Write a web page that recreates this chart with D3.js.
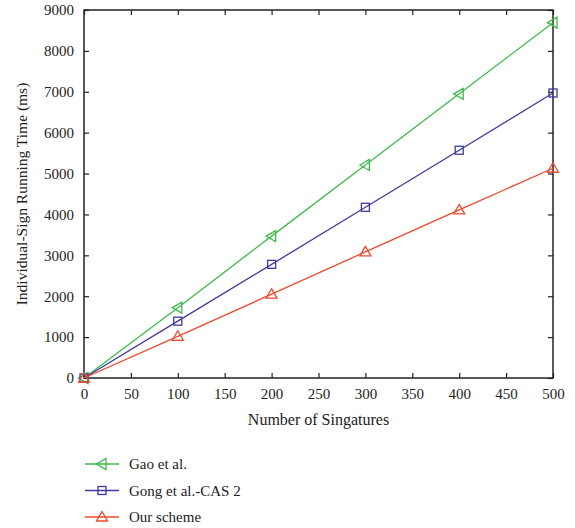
<!DOCTYPE html>
<html>
<head>
<meta charset="utf-8">
<script src="https://cdn.jsdelivr.net/npm/d3@7"></script>
<style>
  body { margin: 0; background: #fff; }
  text { font-family: "Liberation Serif", "DejaVu Serif", serif; fill: #222; }
</style>
</head>
<body>
<div id="chart"></div>
<script>
// Data
var signatures = [0, 100, 200, 300, 400, 500];
var gaoTimes = [0, 1720, 3470, 5210, 6950, 8690];
var gongTimes = [0, 1390, 2780, 4175, 5570, 6970];
var ourTimes = [0, 1020, 2050, 3085, 4110, 5130];
var seriesNames = ["Gao et al.", "Gong et al.-CAS 2", "Our scheme"];
var xTicks = [0, 50, 100, 150, 200, 250, 300, 350, 400, 450, 500];
var yTicks = [0, 1000, 2000, 3000, 4000, 5000, 6000, 7000, 8000, 9000];

var series = [
  { name: seriesNames[0], values: gaoTimes, color: "#3dba4b", marker: "left" },
  { name: seriesNames[1], values: gongTimes, color: "#3e3a9e", marker: "square" },
  { name: seriesNames[2], values: ourTimes, color: "#f2482c", marker: "up" }
];

var svgWidth = 575, svgHeight = 528;
var margin = { top: 10, left: 84, right: 22, bottom: 150 };
var width = svgWidth - margin.left - margin.right;
var height = svgHeight - margin.top - margin.bottom;

var svg = d3.select("#chart").append("svg")
  .attr("width", svgWidth)
  .attr("height", svgHeight);

var g = svg.append("g")
  .attr("transform", `translate(${margin.left}, ${margin.top})`);

var xScale = d3.scaleLinear().domain([0, 500]).range([0, width]);
var yScale = d3.scaleLinear().domain([0, 9000]).range([height, 0]);

// marker drawing
function drawMarker(sel, type, color) {
  if (type === "square") {
    sel.append("rect").attr("x", -4).attr("y", -4).attr("width", 8).attr("height", 8);
  } else if (type === "up") {
    sel.append("path").attr("d", "M0,-5.5L5.5,4L-5.5,4Z");
  } else {
    sel.append("path").attr("d", "M-5.5,0L4,-5.5L4,5.5Z");
  }
  sel.selectAll("rect,path")
    .attr("fill", "none")
    .attr("stroke", color)
    .attr("stroke-width", 1.3);
}

// axes (ticks inside, mirrored)
function styleAxis(ax) {
  ax.select(".domain").remove();
  ax.selectAll("line").attr("stroke", "#222").attr("stroke-width", 1.2);
  ax.selectAll("text").attr("font-size", "15px").style("font-family", "Liberation Serif, serif").attr("fill", "#222");
}

g.append("g")
  .attr("transform", `translate(0, ${height})`)
  .call(d3.axisBottom(xScale).tickValues(xTicks).tickSizeInner(-5).tickSizeOuter(0).tickPadding(10).tickFormat(d3.format("d")))
  .call(styleAxis);

g.append("g")
  .call(d3.axisTop(xScale).tickValues(xTicks).tickSizeInner(-5).tickSizeOuter(0).tickFormat(""))
  .call(styleAxis);

g.append("g")
  .call(d3.axisLeft(yScale).tickValues(yTicks).tickSizeInner(-5).tickSizeOuter(0).tickPadding(10).tickFormat(d3.format("d")))
  .call(styleAxis);

g.append("g")
  .attr("transform", `translate(${width}, 0)`)
  .call(d3.axisRight(yScale).tickValues(yTicks).tickSizeInner(-5).tickSizeOuter(0).tickFormat(""))
  .call(styleAxis);

g.append("rect")
  .attr("width", width)
  .attr("height", height)
  .attr("fill", "none")
  .attr("stroke", "#222")
  .attr("stroke-width", 1.5);

// lines and markers
var line = d3.line()
  .x((d, i) => xScale(signatures[i]))
  .y(d => yScale(d));

series.forEach(function(s) {
  g.append("path")
    .datum(s.values)
    .attr("d", line)
    .attr("fill", "none")
    .attr("stroke", s.color)
    .attr("stroke-width", 1.3);

  s.values.forEach(function(v, i) {
    var m = g.append("g")
      .attr("transform", `translate(${xScale(signatures[i])}, ${yScale(v)})`);
    drawMarker(m, s.marker, s.color);
  });
});

// axis titles
g.append("text")
  .attr("x", width / 2)
  .attr("y", height + 47)
  .attr("text-anchor", "middle")
  .attr("font-size", "16px")
  .text("Number of Singatures");

g.append("text")
  .attr("transform", "rotate(-90)")
  .attr("x", -height / 2)
  .attr("y", -margin.left + 27)
  .attr("text-anchor", "middle")
  .attr("font-size", "15.5px")
  .text("Individual-Sign Running Time (ms)");

// legend
var legend = svg.append("g").attr("transform", "translate(85, 464)");
series.forEach(function(s, i) {
  var row = legend.append("g").attr("transform", `translate(0, ${i * 26.5})`);
  row.append("line")
    .attr("x1", 0).attr("x2", 34)
    .attr("stroke", s.color)
    .attr("stroke-width", 1.3);
  var m = row.append("g").attr("transform", "translate(17, 0)");
  drawMarker(m, s.marker, s.color);
  row.append("text")
    .attr("x", 44)
    .attr("y", 5)
    .attr("font-size", "15px")
    .text(s.name);
});
</script>
</body>
</html>
